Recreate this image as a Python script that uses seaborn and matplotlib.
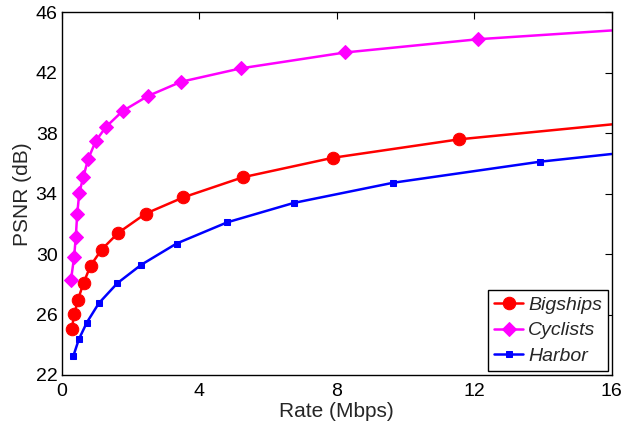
import matplotlib
matplotlib.use("Agg")
import matplotlib.pyplot as plt
import seaborn as sns

# --- dados (Rate em Mbps, PSNR em dB) ---
bigships_rate = [0.29, 0.37, 0.47, 0.64, 0.84, 1.16, 1.65, 2.44, 3.54, 5.27, 7.89, 11.56]
bigships_psnr = [25.05, 26.05, 26.97, 28.12, 29.24, 30.30, 31.42, 32.68, 33.76, 35.09, 36.38, 37.60]

cyclists_rate = [0.27, 0.36, 0.41, 0.45, 0.51, 0.63, 0.77, 0.99, 1.29, 1.77, 2.50, 3.47, 5.21, 8.24, 12.12]
cyclists_psnr = [28.3, 29.8, 31.16, 32.64, 34.03, 35.13, 36.30, 37.49, 38.43, 39.47, 40.46, 41.41, 42.30, 43.35, 44.23]

harbor_rate = [0.34, 0.50, 0.73, 1.08, 1.62, 2.31, 3.34, 4.82, 6.75, 9.65, 13.92]
harbor_psnr = [23.27, 24.37, 25.47, 26.75, 28.08, 29.29, 30.70, 32.11, 33.39, 34.73, 36.12]

# valor da curva no limite direito do eixo (Rate = 16)
curve_end_rate = 16
bigships_end = 38.59
cyclists_end = 44.81
harbor_end = 36.63

x_ticks = [0, 4, 8, 12, 16]
y_ticks = [22, 26, 30, 34, 38, 42, 46]

sns.set_style("white")
plt.rcParams['font.family'] = ['Liberation Sans', 'DejaVu Sans']

fig = plt.figure(figsize=(6.26, 4.30), dpi=100)
ax = fig.add_axes([0.0986, 0.128, 0.8785, 0.843])

series = [
    ("Bigships", bigships_rate, bigships_psnr, bigships_end, "#ff0000", "o", 9),
    ("Cyclists", cyclists_rate, cyclists_psnr, cyclists_end, "#ff00ff", "D", 7.5),
    ("Harbor", harbor_rate, harbor_psnr, harbor_end, "#0000ff", "s", 5),
]

for name, rate, psnr, end, color, mk, ms in series:
    sns.lineplot(
        x=rate + [curve_end_rate], y=psnr + [end], ax=ax,
        color=color, linewidth=1.8, marker=mk, markersize=ms,
        markeredgecolor=color, markerfacecolor=color,
        markevery=list(range(len(rate))), label=name, sort=False,
    )

ax.set_xlim(0, 16)
ax.set_ylim(22, 46)
ax.set_xticks(x_ticks)
ax.set_yticks(y_ticks)
ax.tick_params(direction='in', length=5, width=0.8, top=True, right=True,
               labelsize=14, colors='black')
ax.tick_params(axis='x', pad=6)
ax.tick_params(axis='y', pad=3)
for sp in ax.spines.values():
    sp.set_color('black')
    sp.set_linewidth(1.0)

ax.set_xlabel('Rate (Mbps)', fontsize=15, labelpad=1)
ax.set_ylabel('PSNR (dB)', fontsize=15, labelpad=3)

leg = ax.legend(loc='lower right', frameon=True, fancybox=False,
                edgecolor='black', framealpha=1, handlelength=1.5,
                handletextpad=0.25, borderpad=0.3, labelspacing=0.42,
                borderaxespad=0.2, prop={'style': 'italic', 'size': 14})
leg.get_frame().set_linewidth(1.0)

fig.savefig('out.png', dpi=100)
